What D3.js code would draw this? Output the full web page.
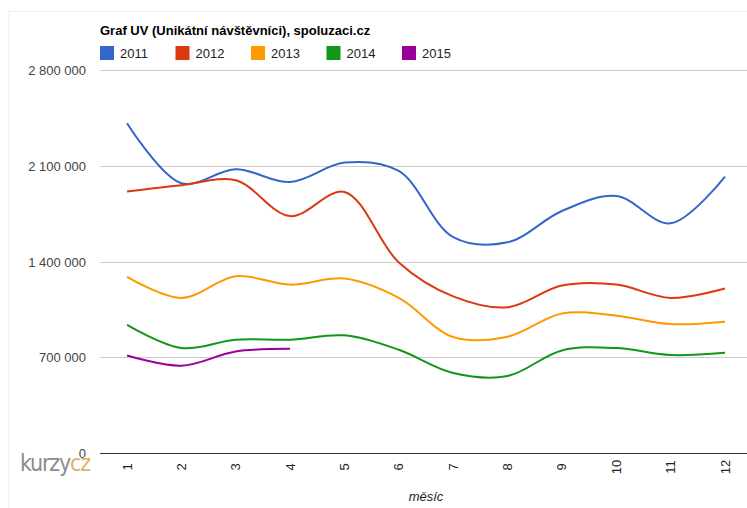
<!DOCTYPE html>
<html>
<head lang="cs">
    <meta charset="UTF-8">
    <script src="https://cdn.jsdelivr.net/npm/d3@7"></script>
    <style>
        body { margin: 0; background: #fff; }
        text { font-family: "Liberation Sans", Arial, sans-serif; }
    </style>
</head>
<body>
<svg width="747" height="508"></svg>
<script>
    // data
    var months = [1, 2, 3, 4, 5, 6, 7, 8, 9, 10, 11, 12];
    var years = ['2011', '2012', '2013', '2014', '2015'];
    var uv2011 = [2411000, 1972000, 2074000, 1981000, 2123000, 2062000, 1578000, 1540000, 1769000, 1879000, 1679000, 2021000];
    var uv2012 = [1911000, 1957000, 1994000, 1732000, 1908000, 1393000, 1145000, 1065000, 1224000, 1231000, 1134000, 1202000];
    var uv2013 = [1288000, 1134000, 1292000, 1231000, 1275000, 1134000, 848000, 850000, 1020000, 1004000, 943000, 960000];
    var uv2014 = [936000, 767000, 828000, 828000, 860000, 755000, 585000, 563000, 750000, 767000, 716000, 733000];
    var uv2015 = [713000, 638000, 742000, 762000];
    var yTicks = [0, 700000, 1400000, 2100000, 2800000];

    var seriesValues = [uv2011, uv2012, uv2013, uv2014, uv2015];
    var colors = ['#3366cc', '#dc3912', '#ff9900', '#109618', '#990099'];

    var svg = d3.select('svg');
    var plotLeft = 100, plotRight = 747, plotTop = 70, plotBottom = 453;

    var x = d3.scalePoint().domain(months).range([127, 725]);
    var y = d3.scaleLinear().domain([0, 2800000]).range([plotBottom, plotTop]);
    var fmt = d3.formatLocale({decimal: ',', thousands: '\u00a0', grouping: [3], currency: ['', ' Kč']}).format(',d');

    // faint frame
    svg.append('line').attr('x1', 8.5).attr('x2', 8.5).attr('y1', 11).attr('y2', 508)
        .attr('stroke', '#f2f2f2');
    svg.append('line').attr('x1', 8).attr('x2', 747).attr('y1', 11.5).attr('y2', 11.5)
        .attr('stroke', '#f2f2f2');

    // title
    svg.append('text')
        .attr('x', 100).attr('y', 35)
        .attr('font-size', 13).attr('font-weight', 'bold').attr('fill', '#000')
        .text('Graf UV (Unikátní návštěvníci), spoluzaci.cz');

    // legend
    var legend = svg.append('g').selectAll('g')
        .data(years)
        .enter()
        .append('g')
        .attr('transform', function (d, i) { return 'translate(' + (100 + i * 75.5) + ',46)'; });
    legend.append('rect')
        .attr('width', 14).attr('height', 14)
        .attr('fill', function (d, i) { return colors[i]; });
    legend.append('text')
        .attr('x', 20).attr('y', 12)
        .attr('font-size', 13).attr('fill', '#222')
        .text(function (d) { return d; });

    // gridlines
    svg.append('g').selectAll('line')
        .data(yTicks.filter(function (d) { return d > 0; }))
        .enter()
        .append('line')
        .attr('x1', plotLeft).attr('x2', plotRight)
        .attr('y1', function (d) { return Math.round(y(d)) + 0.5; })
        .attr('y2', function (d) { return Math.round(y(d)) + 0.5; })
        .attr('stroke', '#cccccc');

    // logo
    var logo = svg.append('text')
        .attr('x', 20).attr('y', 471)
        .attr('font-size', 23)
        .style('font-family', '"Liberation Sans Narrow", "DejaVu Sans Condensed", sans-serif')
        .attr('letter-spacing', -1.2);
    logo.append('tspan').attr('fill', '#8c8c8c').text('kurzy');
    logo.append('tspan').attr('fill', '#dbb567').text('cz');

    // y labels
    svg.append('g').selectAll('text')
        .data(yTicks)
        .enter()
        .append('text')
        .attr('x', 86)
        .attr('y', function (d) { return y(d) + 5; })
        .attr('text-anchor', 'end')
        .attr('font-size', 13).attr('fill', '#444')
        .text(function (d) { return fmt(d); });

    // baseline
    svg.append('line')
        .attr('x1', plotLeft).attr('x2', plotRight)
        .attr('y1', plotBottom + 0.5).attr('y2', plotBottom + 0.5)
        .attr('stroke', '#333');

    // x labels, rotated
    svg.append('g').selectAll('text')
        .data(months)
        .enter()
        .append('text')
        .attr('transform', function (d) { return 'translate(' + (x(d) + 4.5) + ',467) rotate(-90)'; })
        .attr('text-anchor', 'middle')
        .attr('font-size', 13).attr('fill', '#222')
        .text(function (d) { return d; });

    svg.append('text')
        .attr('x', 426).attr('y', 501)
        .attr('text-anchor', 'middle')
        .attr('font-size', 13).attr('font-style', 'italic').attr('fill', '#222')
        .text('měsíc');

    // lines
    var line = d3.line()
        .x(function (d, i) { return x(months[i]); })
        .y(function (d) { return y(d); })
        .curve(d3.curveCatmullRom.alpha(0.5));

    svg.append('g').selectAll('path')
        .data(seriesValues)
        .enter()
        .append('path')
        .attr('d', function (d) { return line(d); })
        .attr('fill', 'none')
        .attr('stroke', function (d, i) { return colors[i]; })
        .attr('stroke-width', 2);
</script>
</body>
</html>
